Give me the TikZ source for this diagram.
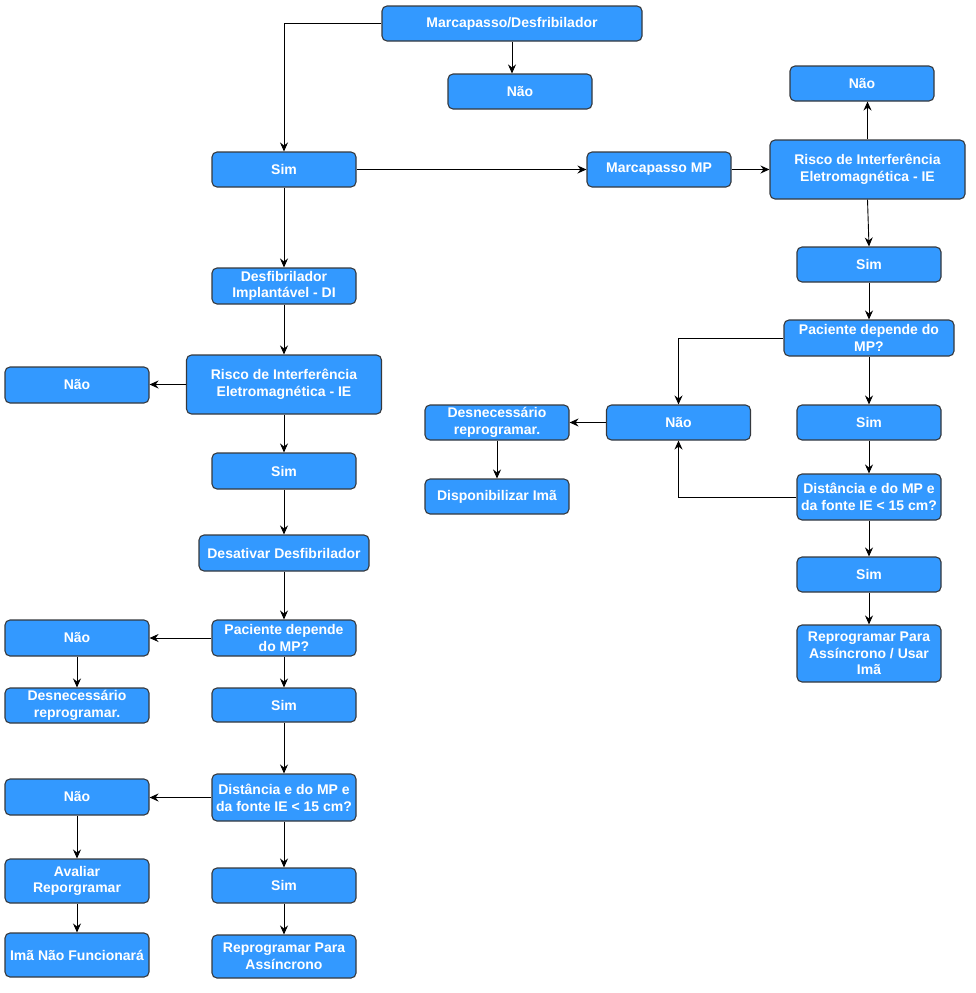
\documentclass[tikz,border=0pt]{standalone}
\usepackage{fontspec}
\setmainfont{Liberation Sans}
\usetikzlibrary{arrows.meta}
\definecolor{boxfill}{HTML}{3399FF}
\definecolor{boxline}{HTML}{36393D}
\tikzset{
  fbox/.style={draw=boxline, fill=boxfill, rounded corners=5pt, line width=1.1pt,
    text=white, font=\fontsize{14}{16.7}\selectfont\bfseries, align=center,
    inner sep=0pt, minimum width=#1, minimum height=35pt},
  fbox/.default=144pt,
  conn/.style={draw=black, line width=0.9pt, -{Stealth[length=9pt,width=8pt,inset=3pt]}}
}
\begin{document}
\begin{tikzpicture}[x=1pt,y=-1pt]
\useasboundingbox (0,0) rectangle (976,993);
% top
\node[fbox=260pt] (top) at (512,23.5) {Marcapasso/Desfribilador};
\node[fbox] (naoTop) at (520,91.5) {Não};
\node[fbox] (sim1) at (284,169.5) {Sim};
\node[fbox] (mp) at (659,169.5) {Marcapasso MP};
% right column
\node[fbox=195pt, minimum height=59pt] (riscoR) at (867.5,169.5) {Risco de Interferência\\Eletromagnética - IE};
\node[fbox] (naoR) at (862,83.5) {Não};
\node[fbox] (simR1) at (869,264.5) {Sim};
\node[fbox=170pt, minimum height=36pt] (pacR) at (869,338) {Paciente depende do\\MP?};
\node[fbox] (naoM) at (678.5,422.5) {Não};
\node[fbox] (desnM) at (497,422.5) {Desnecessário\\reprogramar.};
\node[fbox] (disp) at (497,496.5) {Disponibilizar Imã};
\node[fbox] (simR2) at (869,422.5) {Sim};
\node[fbox, minimum height=46pt] (distR) at (869,497) {Distância e do MP e\\da fonte IE < 15 cm?};
\node[fbox] (simR3) at (869,574.5) {Sim};
\node[fbox, minimum height=57pt] (reprR) at (869,653.5) {Reprogramar Para\\Assíncrono / Usar\\Imã};
% left column
\node[fbox, minimum height=36pt] (desf) at (284,286) {Desfibrilador\\Implantável - DI};
\node[fbox=195pt, minimum height=59pt] (riscoL) at (284,384.5) {Risco de Interferência\\Eletromagnética - IE};
\node[fbox, minimum height=36pt] (naoL1) at (77,385) {Não};
\node[fbox, minimum height=36pt] (simL1) at (284,471) {Sim};
\node[fbox=170pt, minimum height=36pt] (desat) at (284,553) {Desativar Desfibrilador};
\node[fbox, minimum height=36pt] (pacL) at (284,638) {Paciente depende\\do MP?};
\node[fbox, minimum height=36pt] (naoL2) at (77,638) {Não};
\node[fbox] (desnL) at (77,705.5) {Desnecessário\\reprogramar.};
\node[fbox, minimum height=34pt] (simL2) at (284,705) {Sim};
\node[fbox, minimum height=47pt] (distL) at (284,797.5) {Distância e do MP e\\da fonte IE < 15 cm?};
\node[fbox, minimum height=36pt] (naoL3) at (77,797) {Não};
\node[fbox, minimum height=44pt] (aval) at (77,881) {Avaliar\\Reporgramar};
\node[fbox, minimum height=44pt] (ima) at (77,955) {Imã Não Funcionará};
\node[fbox] (simL3) at (284,885.5) {Sim};
\node[fbox, minimum height=43pt] (reprL) at (284,956.5) {Reprogramar Para\\Assíncrono};
% connectors top
\draw[conn] (top.west) -| (sim1.north);
\draw[conn] (top.south) -- (top.south |- naoTop.north);
\draw[conn] (sim1.east) -- (mp.west);
\draw[conn] (mp.east) -- (riscoR.west);
% right
\draw[conn] (riscoR.north) -- (riscoR.north |- naoR.south);
\draw[conn] (riscoR.south) -- (simR1.north);
\draw[conn] (simR1.south) -- (pacR.north);
\draw[conn] (pacR.west) -| (naoM.north);
\draw[conn] (pacR.south) -- (simR2.north);
\draw[conn] (simR2.south) -- (distR.north);
\draw[conn] (distR.west) -| (naoM.south);
\draw[conn] (naoM.west) -- (desnM.east);
\draw[conn] (desnM.south) -- (disp.north);
\draw[conn] (distR.south) -- (simR3.north);
\draw[conn] (simR3.south) -- (reprR.north);
% left
\draw[conn] (sim1.south) -- (desf.north);
\draw[conn] (desf.south) -- (riscoL.north);
\draw[conn] (riscoL.west) -- (riscoL.west -| naoL1.east);
\draw[conn] (riscoL.south) -- (simL1.north);
\draw[conn] (simL1.south) -- (desat.north);
\draw[conn] (desat.south) -- (pacL.north);
\draw[conn] (pacL.west) -- (naoL2.east);
\draw[conn] (naoL2.south) -- (desnL.north);
\draw[conn] (pacL.south) -- (simL2.north);
\draw[conn] (simL2.south) -- (distL.north);
\draw[conn] (distL.west) -- (distL.west -| naoL3.east);
\draw[conn] (naoL3.south) -- (aval.north);
\draw[conn] (aval.south) -- (ima.north);
\draw[conn] (distL.south) -- (simL3.north);
\draw[conn] (simL3.south) -- (reprL.north);
\end{tikzpicture}
\end{document}
